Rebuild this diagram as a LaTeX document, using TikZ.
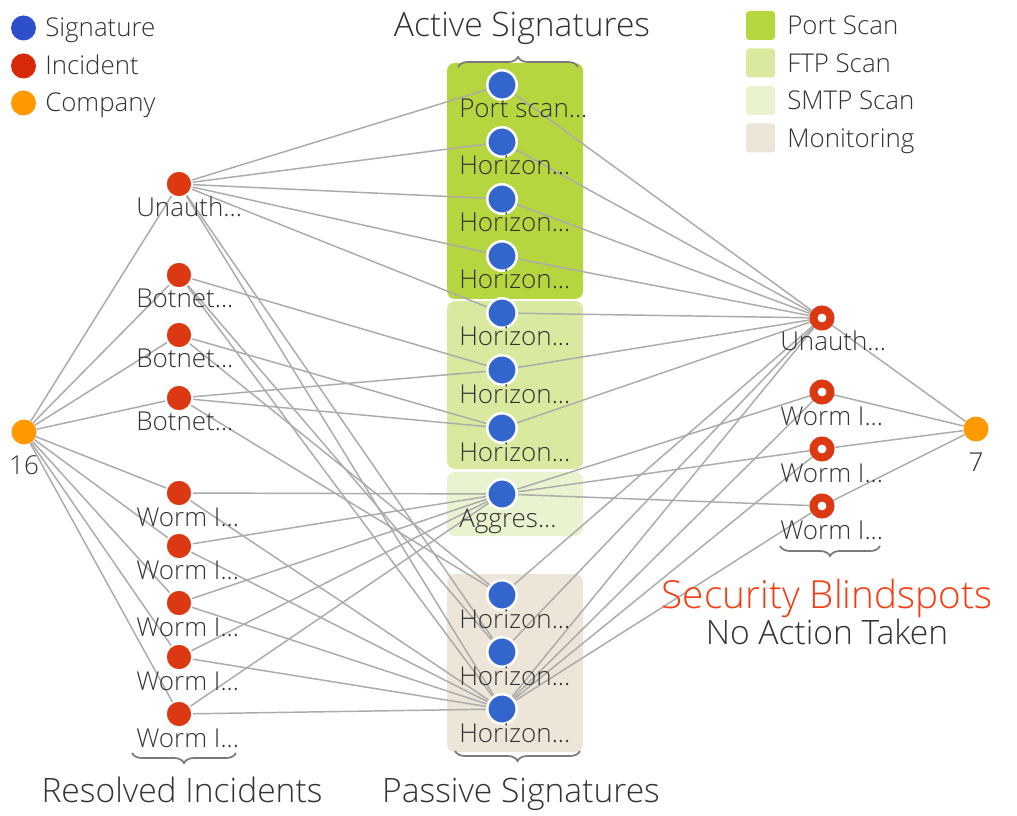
\documentclass[tikz,border=0pt]{standalone}
\usepackage{fontspec}
\IfFontExistsTF{Open Sans Light}{\setmainfont{Open Sans Light}}{\setmainfont{Open Sans}}
\usetikzlibrary{decorations.pathreplacing}

\definecolor{sigblue}{HTML}{3366CC}
\definecolor{incred}{HTML}{DC3912}
\definecolor{comporange}{HTML}{FF9900}
\definecolor{legblue}{HTML}{2D4FCC}
\definecolor{legred}{HTML}{D9290B}
\definecolor{edgegray}{HTML}{ABABAB}
\definecolor{txt}{HTML}{333333}
\definecolor{portscan}{HTML}{B5D63E}
\definecolor{ftpscan}{HTML}{D9E9A0}
\definecolor{smtpscan}{HTML}{EAF3D0}
\definecolor{monitor}{HTML}{EDE5D8}
\definecolor{blind}{HTML}{F53D11}
\definecolor{bracegray}{HTML}{7A7A7A}

% truncated-label ellipsis (kept out of \foreach lists)
\newcommand\ellip{...}

\pgfdeclarelayer{canvas}
\pgfdeclarelayer{groups}
\pgfdeclarelayer{links}
\pgfsetlayers{canvas,groups,links,main}

\begin{document}
\begin{tikzpicture}[x=0.75pt, y=-0.75pt,
  link/.style={draw=edgegray, line width=1.1pt},
  signode/.style={circle, fill=sigblue, draw=white, line width=1.9pt, minimum size=22.1pt, inner sep=0pt},
  incnode/.style={circle, fill=incred, draw=white, line width=1.2pt, minimum size=19.6pt, inner sep=0pt},
  ringnode/.style={circle, fill=white, draw=incred, line width=6pt, minimum size=12.75pt, inner sep=0pt},
  compnode/.style={circle, fill=comporange, minimum size=18.75pt, inner sep=0pt},
  lbl/.style={anchor=base west, inner sep=0pt, text=txt, font=\fontsize{19.5pt}{23pt}\selectfont},
  clbl/.style={anchor=base, inner sep=0pt, text=txt, font=\fontsize{19.5pt}{23pt}\selectfont},
  legtext/.style={anchor=base west, inner sep=0pt, text=txt, font=\fontsize{19.4pt}{23pt}\selectfont},
  title/.style={anchor=base, inner sep=0pt, text=txt, font=\fontsize{25.2pt}{29pt}\selectfont},
  legdot/.style={circle, minimum size=18.75pt, inner sep=0pt},
  legsq/.style={rounded corners=2.5pt, minimum size=21.75pt, inner sep=0pt},
  groupbox/.style={rounded corners=6pt},
  bracket/.style={draw=bracegray, line width=1.3pt, decorate, decoration={brace, amplitude=7.5pt}}
]
\useasboundingbox (0,0) rectangle (1017,816);
\begin{pgfonlayer}{canvas}
  \fill[white] (0,0) rectangle (1017,816);
\end{pgfonlayer}

% signature groups
\begin{pgfonlayer}{groups}
  \fill[groupbox, portscan] (447,63) rectangle (583,299);
  \fill[groupbox, ftpscan] (447,301) rectangle (583,469);
  \fill[groupbox, smtpscan] (447,472) rectangle (583,536);
  \fill[groupbox, monitor] (447,574) rectangle (583,752);
\end{pgfonlayer}

% companies
\node[compnode] (c16) at (24,432) {};
\node[clbl] (lc16) at (24,474) {16};
\node[compnode] (c7) at (976,429) {};
\node[clbl] (lc7) at (976,471) {7};

% resolved incidents
\foreach \n/\y/\t in {1/184/Unauth, 2/275/Botnet, 3/335/Botnet, 4/398/Botnet,
                      5/493/Worm I, 6/546/Worm I, 7/603/Worm I, 8/657/Worm I, 9/714/Worm I}{
  \node[incnode] (i\n) at (179,\y) {};
  \node[lbl] (li\n) at (136,\y+33) {\t\ellip};
}

% signatures
\foreach \n/\y/\t in {1/85/Port scan, 2/142/Horizon, 3/199/Horizon, 4/256/Horizon,
                      5/313/Horizon, 6/370/Horizon, 7/428/Horizon, 8/494/Aggres,
                      9/595/Horizon, 10/652/Horizon, 11/709/Horizon}{
  \node[signode] (s\n) at (502,\y) {};
  \node[lbl] (ls\n) at (459,\y+33) {\t\ellip};
}

% blindspot incidents
\foreach \n/\y/\t in {1/318/Unauth, 2/392/Worm I, 3/449/Worm I, 4/506/Worm I}{
  \node[ringnode] (r\n) at (822,\y) {};
  \node[lbl] (lr\n) at (780,\y+33) {\t\ellip};
}

% links
\begin{pgfonlayer}{links}
  \foreach \n in {1,...,9} \draw[link] (c16) -- (i\n);
  \foreach \s in {1,2,3,4,5,10,11} \draw[link] (i1) -- (s\s);
  \foreach \s in {6,10,11} \draw[link] (i2) -- (s\s);
  \foreach \s in {7,9} \draw[link] (i3) -- (s\s);
  \foreach \s in {6,7,9} \draw[link] (i4) -- (s\s);
  \foreach \n in {5,...,9} {\draw[link] (i\n) -- (s8); \draw[link] (i\n) -- (s11);}
  \foreach \s in {1,2,3,4,5,6,7,9,10,11} \draw[link] (s\s) -- (r1);
  \foreach \r in {2,3,4} {\draw[link] (s8) -- (r\r); \draw[link] (s11) -- (r\r);}
  \foreach \r in {1,...,4} \draw[link] (r\r) -- (c7);
\end{pgfonlayer}

% legend: node kinds
\node[legdot, fill=legblue] (kd1) at (23.5,28) {};
\node[legtext] (kt1) at (45,37) {Signature};
\node[legdot, fill=legred] (kd2) at (23.5,66) {};
\node[legtext] (kt2) at (45,75) {Incident};
\node[legdot, fill=comporange] (kd3) at (23.5,103) {};
\node[legtext] (kt3) at (45,112) {Company};

% legend: signature groups
\node[legsq, fill=portscan] (gs1) at (760.5,25.5) {};
\node[legtext] (gt1) at (787,35) {Port Scan};
\node[legsq, fill=ftpscan] (gs2) at (760.5,63) {};
\node[legtext] (gt2) at (787,73) {FTP Scan};
\node[legsq, fill=smtpscan] (gs3) at (760.5,100.5) {};
\node[legtext] (gt3) at (787,110) {SMTP Scan};
\node[legsq, fill=monitor] (gs4) at (760.5,138) {};
\node[legtext] (gt4) at (787,148) {Monitoring};

% braces and captions
\draw[bracket] (458,67) -- (578,67);
\node[title] (tact) at (522,37) {Active Signatures};
\draw[bracket] (236,753) -- (132,753);
\node[title] (tres) at (182,802) {Resolved Incidents};
\draw[bracket] (580,751) -- (455,751);
\node[title] (tpas) at (521,802) {Passive Signatures};
\draw[bracket] (880,546) -- (780,546);
\node[title, text=blind, font=\fontsize{29pt}{33pt}\selectfont] (tblind) at (827,608) {Security Blindspots};
\node[title] (tnoact) at (827,644) {No Action Taken};
\end{tikzpicture}
\end{document}
